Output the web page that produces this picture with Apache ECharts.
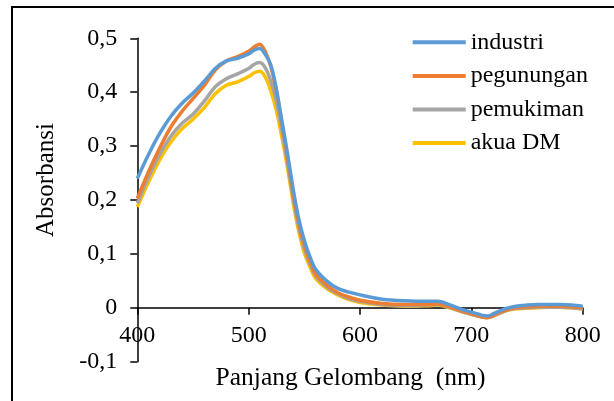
<!DOCTYPE html>
<html>
<head>
<meta charset="utf-8">
<script src="https://cdn.jsdelivr.net/npm/echarts@6/dist/echarts.min.js"></script>
<style>html,body{margin:0;padding:0;background:#fff}#c{width:614px;height:401px}</style>
</head>
<body>
<div id="c"></div>
<script>
const wavelengths = [400,410,420,430,440,450,460,470,480,490,500,505,510,515,520,525,530,535,540,545,550,555,560,570,580,590,600,620,640,660,670,680,690,700,710,715,720,730,740,750,760,770,780,790,800];
const industri = [0.240,0.284,0.323,0.355,0.379,0.398,0.420,0.444,0.458,0.463,0.471,0.478,0.481,0.470,0.450,0.405,0.345,0.285,0.220,0.165,0.125,0.095,0.072,0.050,0.036,0.029,0.024,0.016,0.013,0.012,0.012,0.006,-0.002,-0.008,-0.014,-0.015,-0.011,-0.002,0.003,0.005,0.006,0.006,0.006,0.005,0.003];
const pegunungan = [0.203,0.252,0.296,0.335,0.364,0.388,0.412,0.441,0.458,0.466,0.476,0.484,0.489,0.475,0.447,0.400,0.340,0.278,0.212,0.157,0.116,0.087,0.063,0.042,0.028,0.020,0.014,0.008,0.006,0.006,0.007,0.002,-0.005,-0.011,-0.017,-0.018,-0.014,-0.005,0.000,0.002,0.003,0.003,0.003,0.002,0.000];
const pemukiman = [0.194,0.242,0.284,0.318,0.342,0.359,0.383,0.410,0.425,0.434,0.444,0.452,0.455,0.445,0.420,0.382,0.328,0.268,0.204,0.150,0.110,0.082,0.060,0.039,0.026,0.017,0.012,0.006,0.004,0.005,0.006,0.001,-0.006,-0.012,-0.017,-0.018,-0.015,-0.006,-0.001,0.000,0.001,0.001,0.001,0.000,-0.002];
const akuaDM = [0.187,0.233,0.274,0.307,0.332,0.350,0.371,0.397,0.413,0.419,0.429,0.436,0.439,0.428,0.402,0.365,0.315,0.258,0.195,0.142,0.102,0.076,0.055,0.036,0.024,0.015,0.010,0.005,0.003,0.004,0.005,0.000,-0.006,-0.012,-0.017,-0.018,-0.015,-0.006,-0.002,-0.001,0.000,0.001,0.001,0.000,-0.002];
const seriesNames = ['industri','pegunungan','pemukiman','akua DM'];
const seriesValues = [industri, pegunungan, pemukiman, akuaDM];
const colors = ['#5B9BD5','#ED7D31','#A5A5A5','#FFC000'];
const xTitle = 'Panjang Gelombang  (nm)';
const yTitle = 'Absorbansi';

const FONT = "'Times New Roman', 'Liberation Serif', serif";
const GRID_TOP = 38.3, GRID_BOTTOM = 39.3, H = 401;
const plotH = H - GRID_TOP - GRID_BOTTOM;
const zeroOffset = -plotH * (0.1 / 0.6); // raise x axis to the y = 0 line
const chart = echarts.init(document.getElementById('c'), null, {renderer: 'canvas'});
const series = seriesNames.map((n, i) => ({
  name: n,
  type: 'line',
  data: wavelengths.map((w, j) => [w, seriesValues[i][j]]),
  symbol: 'none',
  showSymbol: false,
  smooth: 0.3,
  lineStyle: {color: colors[i], width: 3.5},
  itemStyle: {color: colors[i]},
  z: 10 - i
}));
chart.setOption({
  animation: false,
  textStyle: {fontFamily: FONT},
  grid: {left: 137.3, right: 31.3, top: GRID_TOP, bottom: GRID_BOTTOM, outerBoundsMode: 'none', containLabel: false},
  graphic: [{
    type: 'rect', z: -1,
    shape: {x: 12, y: 7, width: 700, height: 500},
    style: {fill: 'none', stroke: '#000', lineWidth: 2}
  }],
  legend: {
    orient: 'vertical', left: 412.7, top: 30.3, padding: 0,
    icon: 'rect', itemWidth: 53, itemHeight: 4, itemGap: 9.6,
    textStyle: {fontFamily: FONT, fontSize: 24, color: '#000'},
    data: seriesNames.map((n, i) => ({name: n, itemStyle: {color: colors[i]}}))
  },
  xAxis: {
    type: 'value', min: 400, max: 800, interval: 100,
    position: 'bottom', offset: zeroOffset,
    name: xTitle, nameLocation: 'middle', nameGap: 57,
    nameTextStyle: {fontFamily: FONT, fontSize: 25.5, color: '#000', padding: [0, 19, 0, 0]},
    axisLine: {show: true, onZero: false, lineStyle: {color: '#000', width: 1.5}},
    axisTick: {show: true, length: 7, lineStyle: {color: '#000', width: 1.5}},
    axisLabel: {color: '#000', fontFamily: FONT, fontSize: 24, margin: 16},
    splitLine: {show: false}
  },
  yAxis: {
    type: 'value', min: -0.1, max: 0.5, interval: 0.1,
    name: yTitle, nameLocation: 'middle', nameGap: 78,
    nameTextStyle: {fontFamily: FONT, fontSize: 25, color: '#000', padding: [0, 0, 0, 40]},
    axisLine: {show: true, onZero: false, lineStyle: {color: '#000', width: 1.5}},
    axisTick: {show: true, length: 7, lineStyle: {color: '#000', width: 1.5}},
    axisLabel: {color: '#000', fontFamily: FONT, fontSize: 24, margin: 20,
      formatter: v => { const r = Math.round(v * 10) / 10; return r === 0 ? '0' : r.toFixed(1).replace('.', ','); }},
    splitLine: {show: false}
  },
  series: series
});
</script>
</body>
</html>
